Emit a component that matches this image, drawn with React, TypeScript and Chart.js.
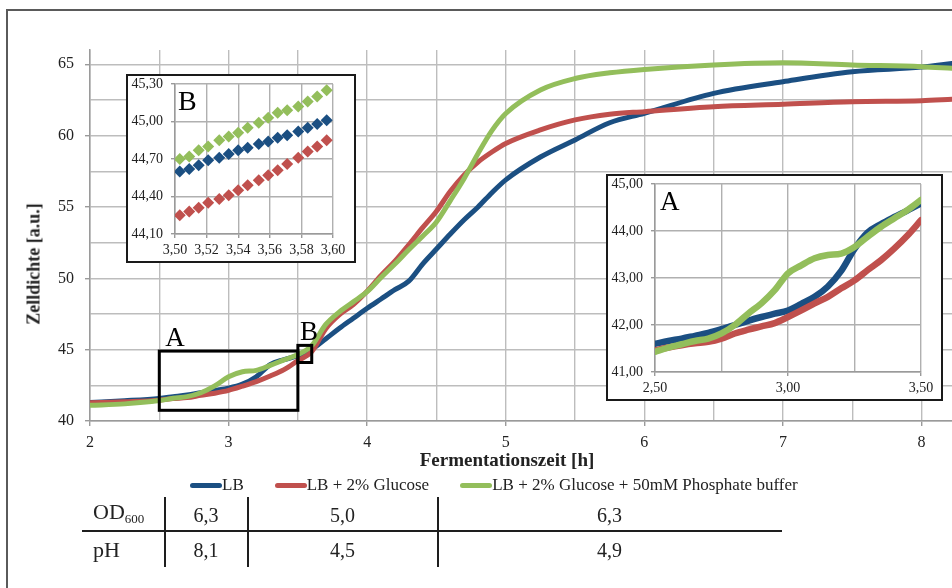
import React, { useEffect, useRef } from 'react';
import { Chart, registerables } from 'chart.js';

Chart.register(...registerables);

// ---------------- data ----------------
const seriesNames = ['LB', 'LB + 2% Glucose', 'LB + 2% Glucose + 50mM Phosphate buffer'];

// main chart (Fermentationszeit [h] vs Zelldichte [a.u.])
const mainTime = [2.0, 2.25, 2.5, 2.6, 2.7, 2.8, 2.9, 3.0, 3.1, 3.2, 3.3, 3.4, 3.5, 3.6, 3.7, 3.8, 3.9, 4.0, 4.1, 4.2, 4.3, 4.4, 4.5, 4.6, 4.7, 4.8, 4.9, 5.0, 5.25, 5.5, 5.75, 6.0, 6.5, 7.0, 7.5, 8.0, 8.22];
const mainLB = [41.30, 41.42, 41.58, 41.70, 41.82, 41.98, 42.14, 42.30, 42.58, 43.10, 43.95, 44.30, 44.58, 45.02, 45.75, 46.50, 47.20, 47.90, 48.55, 49.20, 49.80, 51.00, 52.05, 53.10, 54.10, 55.00, 56.00, 56.90, 58.50, 59.70, 60.90, 61.56, 62.96, 63.78, 64.48, 64.80, 65.05];
const mainGlucose = [41.28, 41.35, 41.46, 41.57, 41.64, 41.80, 41.95, 42.15, 42.44, 42.76, 43.15, 43.60, 44.23, 44.86, 46.45, 47.45, 48.15, 49.10, 50.20, 51.20, 52.35, 53.55, 54.70, 56.10, 57.25, 58.15, 58.85, 59.45, 60.40, 61.10, 61.50, 61.68, 62.03, 62.20, 62.38, 62.45, 62.54];
const mainBuffer = [41.10, 41.20, 41.43, 41.59, 41.71, 41.98, 42.46, 43.10, 43.45, 43.55, 43.90, 44.28, 44.66, 45.28, 46.75, 47.65, 48.35, 49.06, 50.05, 51.00, 52.00, 52.95, 53.95, 55.45, 57.00, 58.75, 60.35, 61.55, 63.20, 64.00, 64.40, 64.64, 64.95, 65.10, 64.95, 64.83, 64.72];

// inset A (2,50 - 3,50 h)
const insetATime = [2.5, 2.55, 2.6, 2.65, 2.7, 2.75, 2.8, 2.85, 2.9, 2.95, 3.0, 3.05, 3.1, 3.15, 3.2, 3.25, 3.3, 3.35, 3.4, 3.45, 3.5];
const insetALB = [41.60, 41.66, 41.71, 41.77, 41.83, 41.91, 42.00, 42.09, 42.17, 42.24, 42.31, 42.45, 42.60, 42.82, 43.15, 43.62, 43.97, 44.15, 44.30, 44.44, 44.59];
const insetAGlucose = [41.46, 41.52, 41.57, 41.61, 41.64, 41.71, 41.82, 41.90, 41.97, 42.04, 42.17, 42.31, 42.46, 42.60, 42.78, 42.95, 43.17, 43.38, 43.63, 43.91, 44.23];
const insetABuffer = [41.43, 41.52, 41.59, 41.66, 41.71, 41.82, 42.00, 42.24, 42.46, 42.74, 43.10, 43.27, 43.42, 43.49, 43.52, 43.66, 43.88, 44.09, 44.27, 44.45, 44.66];

// inset B (3,50 - 3,60 h)
const insetBTime = [3.503, 3.509, 3.515, 3.521, 3.528, 3.534, 3.540, 3.546, 3.553, 3.559, 3.565, 3.571, 3.578, 3.584, 3.590, 3.596];
const insetBLB = [44.60, 44.62, 44.65, 44.69, 44.71, 44.74, 44.77, 44.79, 44.82, 44.84, 44.87, 44.89, 44.92, 44.95, 44.98, 45.01];
const insetBGlucose = [44.25, 44.28, 44.31, 44.35, 44.38, 44.41, 44.45, 44.49, 44.53, 44.57, 44.61, 44.66, 44.71, 44.76, 44.80, 44.85];
const insetBBuffer = [44.70, 44.72, 44.77, 44.80, 44.85, 44.88, 44.91, 44.95, 44.99, 45.03, 45.07, 45.09, 45.12, 45.16, 45.20, 45.25];

// zoom windows marked on the main chart
const zoomLabels = ['A', 'B'];
const zoomXRange = [[2.5, 3.5], [3.5, 3.6]];
const zoomYRange = [[40.75, 44.9], [44.1, 45.3]];

// table below the chart
const tableRowLabels = ['OD', 'pH'];
const odValues = ['6,3', '5,0', '6,3'];
const phValues = ['8,1', '4,5', '4,9'];

// ---------------- styles ----------------
const FONT = '"Liberation Serif", "Times New Roman", serif';
const INK = '#222222';
const GRID = '#bdbdbd';
const AXIS = '#9a9a9a';
const seriesColors = ['#1b4f82', '#c0504d', '#93be5b'];
const zoomLabelOffset = [[6, -5], [2, -5]];

const comma = (v: number, d: number) => v.toFixed(d).replace('.', ',');
const isMult = (v: number, step: number) => Math.abs(v / step - Math.round(v / step)) < 1e-6;

function lineSets(time: number[], series: number[][], width: number) {
  return series.map((vals, i) => ({
    label: seriesNames[i],
    data: time.map((t, j) => ({ x: t, y: vals[j] })),
    borderColor: seriesColors[i],
    backgroundColor: seriesColors[i],
    borderWidth: width,
    pointRadius: 0,
    cubicInterpolationMode: 'monotone',
    borderCapStyle: 'round',
    borderJoinStyle: 'round',
    fill: false,
    order: 2 - i,
  }));
}

function axis(o: {
  min: number; max: number; step: number; labelStep: number; fmt: (v: number) => string;
  horizontal: boolean; fit: number; tickLength: number; padding: number; size: number; grid?: string;
}) {
  return {
    type: 'linear',
    min: o.min,
    max: o.max,
    afterBuildTicks: (s: any) => {
      s.ticks = s.ticks.filter((t: any) => isMult(t.value, o.step));
    },
    afterFit: (s: any) => {
      if (o.horizontal) s.height = o.fit;
      else s.width = o.fit;
      s.paddingTop = 0; s.paddingBottom = 0; s.paddingLeft = 0; s.paddingRight = 0;
    },
    ticks: {
      stepSize: o.step,
      includeBounds: false,
      autoSkip: false,
      maxRotation: 0,
      minRotation: 0,
      padding: o.padding,
      color: INK,
      font: { family: FONT, size: o.size },
      callback: (v: any) => (isMult(Number(v), o.labelStep) ? o.fmt(Number(v)) : ''),
    },
    grid: {
      color: o.grid || GRID,
      lineWidth: 1.4,
      drawTicks: true,
      tickLength: o.tickLength,
      tickColor: (ctx: any) => (ctx.tick && isMult(ctx.tick.value, o.labelStep) ? AXIS : 'rgba(0,0,0,0)'),
    },
    border: { color: AXIS, width: 1.5 },
  };
}

const zoomBoxPlugin = {
  id: 'zoomBoxes',
  afterDatasetsDraw(chart: any) {
    const { ctx, scales } = chart;
    ctx.save();
    zoomLabels.forEach((lab, i) => {
      const x0 = scales.x.getPixelForValue(zoomXRange[i][0]);
      const x1 = scales.x.getPixelForValue(zoomXRange[i][1]);
      const y0 = scales.y.getPixelForValue(zoomYRange[i][1]);
      const y1 = scales.y.getPixelForValue(zoomYRange[i][0]);
      ctx.strokeStyle = '#000';
      ctx.lineWidth = 3;
      ctx.strokeRect(x0, y0, x1 - x0, y1 - y0);
      ctx.fillStyle = '#000';
      ctx.font = `27px ${FONT}`;
      ctx.textBaseline = 'alphabetic';
      ctx.textAlign = 'left';
      ctx.fillText(lab, x0 + zoomLabelOffset[i][0], y0 + zoomLabelOffset[i][1]);
    });
    ctx.restore();
  },
};

const letterPlugin = (letter: string, dx: number, dy: number, size: number) => ({
  id: 'letter' + letter,
  afterDraw(chart: any) {
    const { ctx, chartArea } = chart;
    ctx.save();
    ctx.fillStyle = '#000';
    ctx.font = `${size}px ${FONT}`;
    ctx.textBaseline = 'alphabetic';
    ctx.textAlign = 'left';
    ctx.fillText(letter, chartArea.left + dx, chartArea.top + dy);
    ctx.restore();
  },
});

function mainConfig(): any {
  return {
    type: 'line',
    data: { datasets: lineSets(mainTime, [mainLB, mainGlucose, mainBuffer], 5) },
    options: {
      animation: false,
      responsive: false,
      events: [],
      layout: { padding: { left: 0, top: 50, right: 0, bottom: 588 - 421 - 30 } },
      plugins: { legend: { display: false }, tooltip: { enabled: false } },
      scales: {
        x: axis({ min: 2, max: 8.22, step: 0.5, labelStep: 1, fmt: (v) => String(v), horizontal: true, fit: 30, tickLength: 5, padding: 7, size: 16 }),
        y: axis({ min: 40, max: 66, step: 2.5, labelStep: 5, fmt: (v) => String(v), horizontal: false, fit: 90, tickLength: 5, padding: 11, size: 16 }),
      },
    },
    plugins: [zoomBoxPlugin],
  };
}

function insetAConfig(): any {
  return {
    type: 'line',
    data: { datasets: lineSets(insetATime, [insetALB, insetAGlucose, insetABuffer], 6.5) },
    options: {
      animation: false,
      responsive: false,
      events: [],
      layout: { padding: { left: 0, top: 8, right: 20, bottom: 0 } },
      plugins: { legend: { display: false }, tooltip: { enabled: false } },
      scales: {
        x: axis({ min: 2.5, max: 3.5, step: 0.25, labelStep: 0.5, fmt: (v) => comma(v, 2), horizontal: true, fit: 27, tickLength: 4, padding: 4, size: 14, grid: '#b0b0b0' }),
        y: axis({ min: 41, max: 45, step: 1, labelStep: 1, fmt: (v) => comma(v, 2), horizontal: false, fit: 47, tickLength: 4, padding: 8, size: 14, grid: '#b0b0b0' }),
      },
    },
    plugins: [letterPlugin('A', 5, 26, 27)],
  };
}

function insetBConfig(): any {
  const sets = [insetBLB, insetBGlucose, insetBBuffer].map((vals, i) => ({
    label: seriesNames[i],
    data: insetBTime.map((t, j) => ({ x: t, y: vals[j] })),
    showLine: false,
    pointStyle: 'rectRot',
    pointRadius: 6,
    pointBorderWidth: 0,
    pointBackgroundColor: seriesColors[i],
    pointBorderColor: seriesColors[i],
    borderColor: seriesColors[i],
    backgroundColor: seriesColors[i],
    order: 2 - i,
  }));
  return {
    type: 'line',
    data: { datasets: sets },
    options: {
      animation: false,
      responsive: false,
      events: [],
      layout: { padding: { left: 0, top: 8, right: 21, bottom: 0 } },
      plugins: { legend: { display: false }, tooltip: { enabled: false } },
      scales: {
        x: axis({ min: 3.5, max: 3.6, step: 0.02, labelStep: 0.02, fmt: (v) => comma(v, 2), horizontal: true, fit: 27, tickLength: 4, padding: 4, size: 14, grid: '#b0b0b0' }),
        y: axis({ min: 44.1, max: 45.3, step: 0.3, labelStep: 0.3, fmt: (v) => comma(v, 2), horizontal: false, fit: 47, tickLength: 4, padding: 8, size: 14, grid: '#b0b0b0' }),
      },
    },
    plugins: [letterPlugin('B', 3, 26, 28)],
  };
}

const abs = (s: React.CSSProperties): React.CSSProperties => ({ position: 'absolute', ...s });

export default function App() {
  const mainRef = useRef<HTMLCanvasElement>(null);
  const aRef = useRef<HTMLCanvasElement>(null);
  const bRef = useRef<HTMLCanvasElement>(null);

  useEffect(() => {
    const charts: Chart[] = [];
    if (mainRef.current) charts.push(new Chart(mainRef.current, mainConfig()));
    if (aRef.current) charts.push(new Chart(aRef.current, insetAConfig()));
    if (bRef.current) charts.push(new Chart(bRef.current, insetBConfig()));
    return () => charts.forEach((c) => c.destroy());
  }, []);

  const colCenters = [206, 342.5, 609.5];
  const rowCenters = [515, 550];
  const cellText: React.CSSProperties = { fontSize: 20, lineHeight: '24px', color: INK, whiteSpace: 'nowrap', transform: 'translate(-50%, -50%)' };

  return (
    <div style={{ position: 'fixed', left: 0, top: 0, width: 952, height: 588, overflow: 'hidden', background: '#fff', fontFamily: FONT, color: INK }}>
      {/* outer frame */}
      <div style={abs({ left: 6, top: 9, width: 1000, height: 1000, border: '2px solid #5a5a5a', boxSizing: 'border-box' })} />

      <canvas ref={mainRef} width={952} height={588} style={abs({ left: 0, top: 0, display: 'block' })} />

      {/* axis titles */}
      <div style={abs({ left: 34, top: 264, transform: 'translate(-50%, -50%) rotate(-90deg)', fontWeight: 'bold', fontSize: 18, whiteSpace: 'nowrap' })}>Zelldichte [a.u.]</div>
      <div style={abs({ left: 507, top: 460, transform: 'translate(-50%, -50%)', fontWeight: 'bold', fontSize: 19, whiteSpace: 'nowrap' })}>Fermentationszeit [h]</div>

      {/* inset B */}
      <div style={abs({ left: 126, top: 74, width: 230, height: 189, border: '2px solid #1a1a1a', boxSizing: 'border-box', background: '#fff' })}>
        <canvas ref={bRef} width={226} height={185} style={{ display: 'block' }} />
      </div>

      {/* inset A */}
      <div style={abs({ left: 606, top: 174, width: 337, height: 227, border: '2px solid #1a1a1a', boxSizing: 'border-box', background: '#fff' })}>
        <canvas ref={aRef} width={333} height={223} style={{ display: 'block' }} />
      </div>

      {/* legend */}
      <div style={abs({ left: 190, top: 474, height: 22, display: 'flex', alignItems: 'center', gap: 31 })}>
        {seriesNames.map((n, i) => (
          <div key={n} style={{ display: 'flex', alignItems: 'center' }}>
            <span style={{ display: 'inline-block', width: 32, height: 5, borderRadius: 3, background: seriesColors[i] }} />
            <span style={{ fontSize: 17, lineHeight: '22px', whiteSpace: 'nowrap' }}>{n}</span>
          </div>
        ))}
      </div>

      {/* table */}
      <div style={abs({ left: 82, top: 530, width: 700, height: 2, background: '#1e1e1e' })} />
      {[164, 247, 437].map((x) => (
        <div key={x} style={abs({ left: x, top: 497, width: 2, height: 70, background: '#1e1e1e' })} />
      ))}
      <div style={abs({ left: 93, top: rowCenters[0], transform: 'translateY(-50%)', fontSize: 22, lineHeight: '24px', whiteSpace: 'nowrap' })}>
        {tableRowLabels[0]}<sub style={{ fontSize: 13, verticalAlign: '-4px' }}>600</sub>
      </div>
      <div style={abs({ left: 93, top: rowCenters[1], transform: 'translateY(-50%)', fontSize: 22, lineHeight: '24px', whiteSpace: 'nowrap' })}>
        {tableRowLabels[1]}
      </div>
      {odValues.map((v, i) => (
        <div key={'od' + i} style={abs({ left: colCenters[i], top: rowCenters[0], ...cellText })}>{v}</div>
      ))}
      {phValues.map((v, i) => (
        <div key={'ph' + i} style={abs({ left: colCenters[i], top: rowCenters[1], ...cellText })}>{v}</div>
      ))}
    </div>
  );
}
